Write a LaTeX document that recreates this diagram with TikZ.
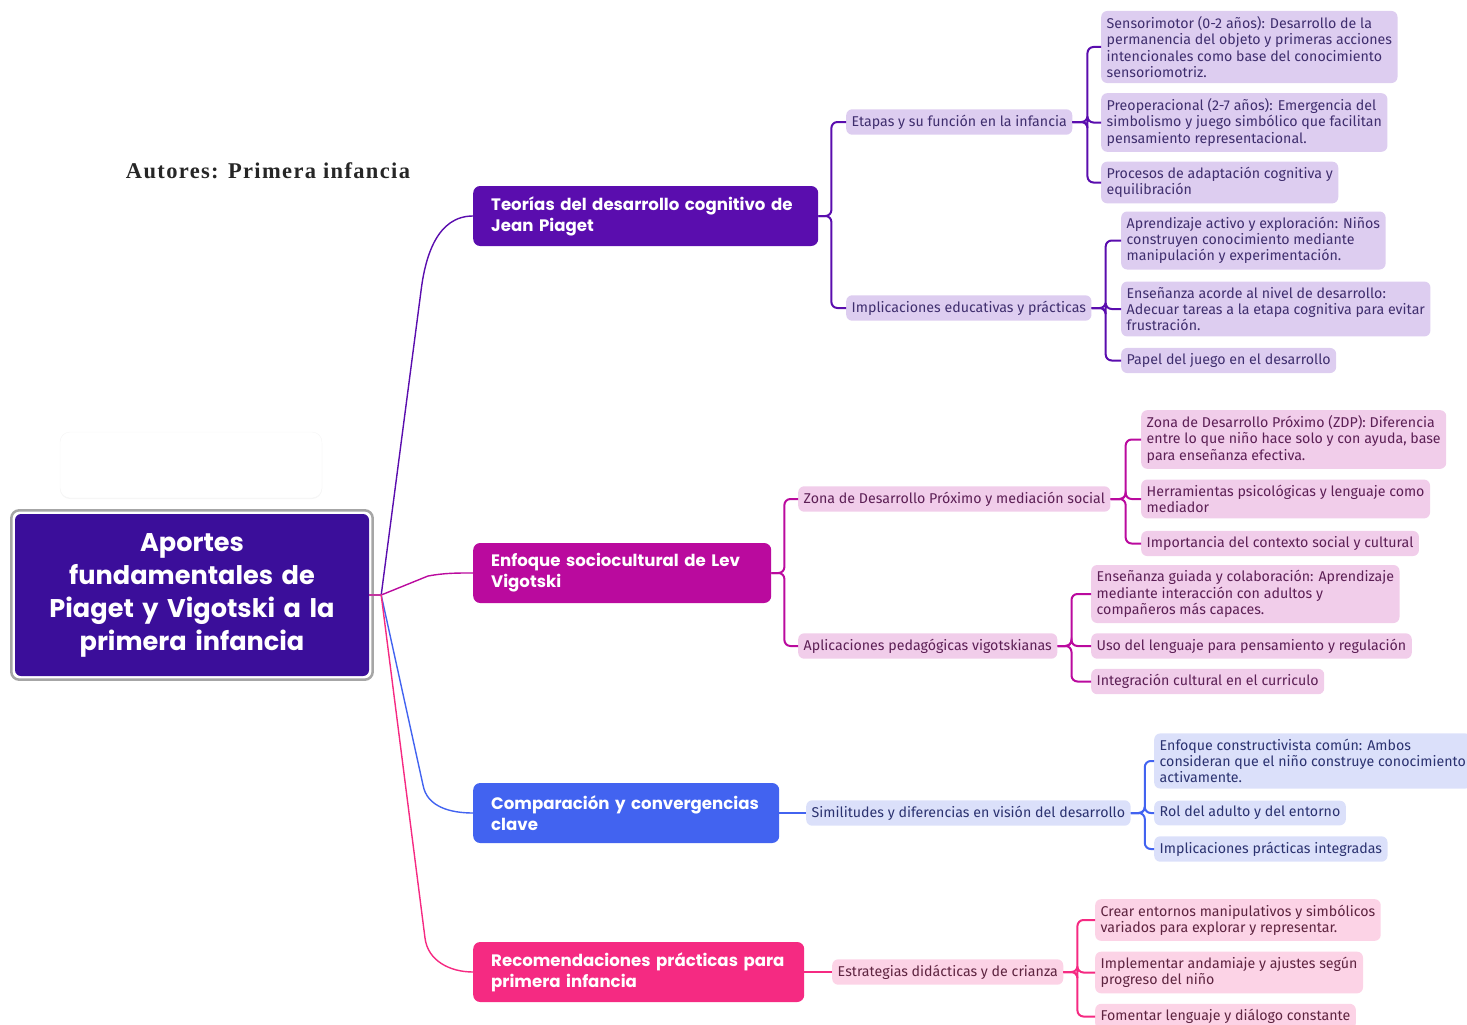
\documentclass[tikz,border=0pt]{standalone}
\usepackage{fontspec}
\setmainfont{Fira Sans}
\newfontfamily\headfont{Poppins}
\newfontfamily\titlefont{Liberation Serif}[LetterSpace=6]
\usetikzlibrary{calc,shadows}

\definecolor{rootcol}{HTML}{3B0E9A}
\definecolor{piagetcol}{HTML}{5A0DAE}
\definecolor{vigotcol}{HTML}{BA0A9E}
\definecolor{comparcol}{HTML}{4263F0}
\definecolor{recomcol}{HTML}{F52A82}
\definecolor{piagetlt}{HTML}{DDCDF0}
\definecolor{vigotlt}{HTML}{F1CDEA}
\definecolor{comparlt}{HTML}{DBE0FA}
\definecolor{recomlt}{HTML}{FCD3E6}
\definecolor{piagettx}{HTML}{3F2E6E}
\definecolor{vigottx}{HTML}{5C1F55}
\definecolor{compartx}{HTML}{2B3270}
\definecolor{recomtx}{HTML}{5E2440}

\tikzset{
  leaf/.style={rounded corners=6pt, inner xsep=5.5pt, inner ysep=5.5pt, anchor=west,
    align=left, font=\fontsize{14.2}{16.3}\selectfont},
  leafP/.style={leaf, fill=piagetlt, text=piagettx},
  leafV/.style={leaf, fill=vigotlt, text=vigottx},
  leafC/.style={leaf, fill=comparlt, text=compartx},
  leafR/.style={leaf, fill=recomlt, text=recomtx},
  branch/.style={rounded corners=7pt, anchor=west, align=left, inner xsep=18pt,
    minimum height=60pt, text=white, font=\headfont\bfseries\fontsize{16.6}{21}\selectfont},
  linkP/.style={draw=piagetcol, line width=2pt, rounded corners=6pt},
  linkV/.style={draw=vigotcol, line width=2pt, rounded corners=6pt},
  linkC/.style={draw=comparcol, line width=2pt, rounded corners=6pt},
  linkR/.style={draw=recomcol, line width=2pt, rounded corners=6pt},
  rootlink/.style={line width=1.4pt},
}

\begin{document}
\begin{tikzpicture}[x=1pt,y=1pt]
\useasboundingbox (0,0) rectangle (1467,-1025);

\node[text=black!85, font=\titlefont\bfseries\fontsize{22.5}{26}\selectfont] (title) at (268,-171) {Autores: Primera infancia};
\node[fill=white, draw=black!4, rounded corners=10pt, minimum width=262pt, minimum height=66pt,
  drop shadow={opacity=0.08, shadow xshift=0pt, shadow yshift=-1pt}] (blank) at (191,-465) {};

\node[fill=rootcol, rounded corners=6pt, minimum width=354pt, minimum height=162pt,
  text width=345pt, align=center, text=white,
  font=\headfont\bfseries\fontsize{25.6}{33}\selectfont] (root) at (192,-595)
  {Aportes\\fundamentales de\\Piaget y Vigotski a la\\primera infancia};
\draw[gray!70, line width=2.5pt, rounded corners=8pt] ($(root.south west)+(-3.5,-3.5)$) rectangle ($(root.north east)+(3.5,3.5)$);

\node[branch, fill=piagetcol, text width=309pt] (piaget) at (473,-216) {\mbox{Teorías del desarrollo cognitivo de}\\Jean Piaget};
\node[branch, fill=vigotcol, text width=262pt] (vigot) at (473,-573) {\mbox{Enfoque sociocultural de Lev}\\Vigotski};
\node[branch, fill=comparcol, text width=270pt] (compar) at (473,-813) {\mbox{Comparación y convergencias}\\clave};
\node[branch, fill=recomcol, text width=295pt] (recom) at (473,-972) {\mbox{Recomendaciones prácticas para}\\primera infancia};

\draw[rootlink, piagetcol] (root.east) -- ++(12,0) -- ($(piaget.west)+(-52,-75)$) to[out=83,in=180] (piaget.west);
\draw[rootlink, vigotcol] (root.east) -- ++(12,0) -- ($(vigot.west)+(-45,-3)$) to[out=10,in=180] (vigot.west);
\draw[rootlink, comparcol] (root.east) -- ++(12,0) -- ($(compar.west)+(-50,28)$) to[out=-80,in=180] (compar.west);
\draw[rootlink, recomcol] (root.east) -- ++(12,0) -- ($(recom.west)+(-48,34)$) to[out=-83,in=180] (recom.west);

\node[leafP] (etapas) at (846,-122) {Etapas y su función en la infancia};
\node[leafP] (implic) at (846,-308) {Implicaciones educativas y prácticas};
\node[leafV] (zona) at (798,-499) {Zona de Desarrollo Próximo y mediación social};
\node[leafV] (aplic) at (798,-646) {Aplicaciones pedagógicas vigotskianas};
\node[leafC] (simil) at (806,-813) {Similitudes y diferencias en visión del desarrollo};
\node[leafR] (estrat) at (832,-972) {Estrategias didácticas y de crianza};

\node[leafP] (sens) at (1101,-47) {Sensorimotor (0-2 años): Desarrollo de la\\permanencia del objeto y primeras acciones\\intencionales como base del conocimiento\\sensoriomotriz.};
\node[leafP] (preop) at (1101,-122.5) {Preoperacional (2-7 años): Emergencia del\\simbolismo y juego simbólico que facilitan\\pensamiento representacional.};
\node[leafP] (proces) at (1101,-182.5) {Procesos de adaptación cognitiva y\\equilibración};
\node[leafP] (aprend) at (1121,-240.5) {Aprendizaje activo y exploración: Niños\\construyen conocimiento mediante\\manipulación y experimentación.};
\node[leafP] (ensen) at (1121,-309) {Enseñanza acorde al nivel de desarrollo:\\Adecuar tareas a la etapa cognitiva para evitar\\frustración.};
\node[leafP] (papel) at (1121,-360.5) {Papel del juego en el desarrollo};

\node[leafV] (zdp) at (1141,-439.5) {Zona de Desarrollo Próximo (ZDP): Diferencia\\entre lo que niño hace solo y con ayuda, base\\para enseñanza efectiva.};
\node[leafV] (herram) at (1141,-499) {Herramientas psicológicas y lenguaje como\\mediador};
\node[leafV] (import) at (1141,-543.5) {Importancia del contexto social y cultural};
\node[leafV] (guiada) at (1091,-594) {Enseñanza guiada y colaboración: Aprendizaje\\mediante interacción con adultos y\\compañeros más capaces.};
\node[leafV] (uso) at (1091,-646) {Uso del lenguaje para pensamiento y regulación};
\node[leafV] (integ) at (1091,-681.5) {Integración cultural en el curriculo};

\node[leafC] (enfoque) at (1154,-761) {Enfoque constructivista común: Ambos\\consideran que el niño construye conocimiento\\activamente.};
\node[leafC] (rol) at (1154,-813) {Rol del adulto y del entorno};
\node[leafC] (implint) at (1154,-849) {Implicaciones prácticas integradas};

\node[leafR] (crear) at (1095,-920) {Crear entornos manipulativos y simbólicos\\variados para explorar y representar.};
\node[leafR] (implem) at (1095,-972.5) {Implementar andamiaje y ajustes según\\progreso del niño};
\node[leafR] (foment) at (1095,-1016.5) {Fomentar lenguaje y diálogo constante};

\foreach \c in {etapas,implic} \draw[linkP] (piaget.east) -- ++(13,0) |- (\c.west);
\foreach \c in {sens,preop,proces} \draw[linkP] (etapas.east) -- ++(15,0) |- (\c.west);
\foreach \c in {aprend,ensen,papel} \draw[linkP] (implic.east) -- ++(14,0) |- (\c.west);
\foreach \c in {zona,aplic} \draw[linkV] (vigot.east) -- ++(13,0) |- (\c.west);
\foreach \c in {zdp,herram,import} \draw[linkV] (zona.east) -- ++(15,0) |- (\c.west);
\foreach \c in {guiada,uso,integ} \draw[linkV] (aplic.east) -- ++(14,0) |- (\c.west);
\draw[linkC] (compar.east) -- (simil.west);
\foreach \c in {enfoque,rol,implint} \draw[linkC] (simil.east) -- ++(14,0) |- (\c.west);
\draw[linkR] (recom.east) -- (estrat.west);
\foreach \c in {crear,implem,foment} \draw[linkR] (estrat.east) -- ++(14,0) |- (\c.west);
\end{tikzpicture}
\end{document}
